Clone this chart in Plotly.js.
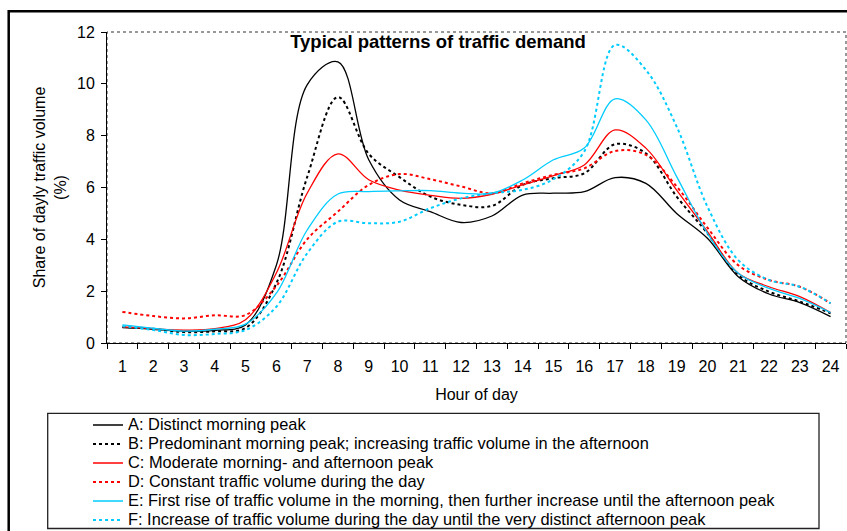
<!DOCTYPE html>
<html>
<head>
<meta charset="utf-8">
<script src="https://cdn.plot.ly/plotly-3.0.1.min.js"></script>
<style>
  html, body { margin: 0; padding: 0; background: #fff; }
  #chart { width: 847px; height: 531px; }
</style>
</head>
<body>
<div id="chart"></div>
<script>
var hours = ['1','2','3','4','5','6','7','8','9','10','11','12','13','14','15','16','17','18','19','20','21','22','23','24'];

var seriesNames = [
  'A: Distinct morning peak',
  'B: Predominant morning peak; increasing traffic volume in the afternoon',
  'C: Moderate morning- and afternoon peak',
  'D: Constant traffic volume during the day',
  'E: First rise of traffic volume in the morning, then further increase until the afternoon peak',
  'F: Increase of traffic volume during the day until the very distinct afternoon peak'
];

var seriesA = [0.59, 0.53, 0.45, 0.49, 0.70, 3.00, 9.96, 10.85, 7.07, 5.52, 5.07, 4.65, 4.90, 5.71, 5.78, 5.84, 6.38, 6.16, 5.00, 4.04, 2.56, 1.89, 1.56, 1.02];
var seriesB = [0.62, 0.55, 0.42, 0.45, 0.58, 2.30, 6.40, 9.49, 7.30, 6.40, 5.65, 5.33, 5.29, 6.10, 6.36, 6.55, 7.67, 7.32, 5.65, 4.23, 2.63, 1.98, 1.60, 1.15];
var seriesC = [0.62, 0.55, 0.50, 0.55, 0.90, 2.70, 5.78, 7.30, 6.30, 5.90, 5.70, 5.58, 5.74, 6.10, 6.46, 6.87, 8.22, 7.52, 5.90, 4.30, 2.69, 2.17, 1.79, 1.17];
var seriesD = [1.20, 1.04, 0.95, 1.07, 1.08, 2.20, 4.00, 5.07, 6.10, 6.52, 6.32, 6.04, 5.78, 6.16, 6.49, 6.74, 7.41, 7.26, 6.04, 4.45, 3.00, 2.43, 2.17, 1.53];
var seriesE = [0.70, 0.57, 0.46, 0.53, 0.73, 1.92, 4.36, 5.75, 5.84, 5.87, 5.88, 5.78, 5.78, 6.29, 7.07, 7.52, 9.42, 8.61, 6.42, 4.23, 2.69, 2.11, 1.72, 1.17];
var seriesF = [0.65, 0.50, 0.31, 0.35, 0.50, 1.40, 3.46, 4.68, 4.62, 4.68, 5.20, 5.58, 5.78, 5.91, 6.32, 7.39, 11.50, 10.54, 8.35, 5.26, 3.20, 2.43, 2.17, 1.53];

var seriesValues = [seriesA, seriesB, seriesC, seriesD, seriesE, seriesF];
var seriesColors = ['#000000', '#000000', '#FF0000', '#FF0000', '#00CCFF', '#00CCFF'];
var seriesDash = ['solid', 'dot', 'solid', 'dot', 'solid', 'dot'];
var seriesWidth = [1.3, 2, 1.3, 2, 1.3, 2];

var traces = seriesValues.map(function (vals, i) {
  return {
    type: 'scatter',
    mode: 'lines',
    x: hours,
    y: vals,
    name: '<span style="font-size:16.4px">' + seriesNames[i] + '</span>',
    line: { color: seriesColors[i], dash: seriesDash[i], width: seriesWidth[i], shape: 'spline', smoothing: 1 },
    hoverinfo: 'x+y+name'
  };
});

// plot area in pixels: left 107, right 846, top 32, bottom 343
var L = 107, R = 846, T = 32, B = 343, W = 847, H = 531;
var pw = R - L, ph = B - T;
function px(x) { return (x - L) / pw; }
function py(y) { return (B - y) / ph; }

var layout = {
  width: W,
  height: H,
  margin: { l: L, r: W - R, t: T, b: H - B, autoexpand: false },
  paper_bgcolor: '#ffffff',
  plot_bgcolor: '#ffffff',
  font: { family: 'Liberation Sans, Arial, sans-serif', size: 16, color: '#000' },
  title: {
    text: '<b>Typical patterns of traffic demand</b>',
    font: { family: 'Liberation Sans, Arial, sans-serif', size: 18.5, color: '#000' },
    x: 438 / W, xref: 'container', xanchor: 'center',
    y: 1 - 42 / H, yref: 'container', yanchor: 'middle'
  },
  showlegend: true,
  legend: {
    x: px(88), xanchor: 'left',
    y: py(410.5), yanchor: 'top',
    bgcolor: 'rgba(0,0,0,0)',
    borderwidth: 0,
    font: { family: 'Liberation Sans, Arial, sans-serif', size: 12, color: '#000' },
    traceorder: 'normal',
    itemclick: false
  },
  xaxis: {
    type: 'category',
    range: [-0.5, 23.5],
    tickson: 'boundaries',
    ticks: 'outside',
    ticklen: 5,
    tickcolor: '#000',
    ticklabelstandoff: 9,
    showline: true,
    linecolor: '#000',
    linewidth: 1,
    showgrid: false,
    zeroline: false,
    tickfont: { size: 16 },
    title: { text: 'Hour of day', font: { size: 16 }, standoff: 14 },
    fixedrange: true
  },
  yaxis: {
    range: [0, 12],
    dtick: 2,
    tick0: 0,
    ticks: 'outside',
    ticklen: 5,
    tickcolor: '#000',
    ticklabelstandoff: 3,
    showline: true,
    linecolor: '#000',
    linewidth: 1,
    showgrid: false,
    zeroline: false,
    tickfont: { size: 16 },
    title: { text: 'Share of dayly traffic volume<br>(%)', font: { size: 16 }, standoff: 6 },
    fixedrange: true
  },
  shapes: [
    // dotted plot-area frame
    { type: 'rect', xref: 'paper', yref: 'paper', x0: 0, x1: 1, y0: 0, y1: 1,
      line: { color: '#333', width: 1, dash: 'dot' }, layer: 'below' },
    // outer chart frame (left and top visible)
    { type: 'rect', xref: 'paper', yref: 'paper', x0: px(8.7), x1: px(900), y0: py(600), y1: py(11.2),
      line: { color: '#000', width: 2.5 }, layer: 'below' },
    // legend box
    { type: 'rect', xref: 'paper', yref: 'paper', x0: px(47.7), x1: px(819), y0: py(528.5), y1: py(413.3),
      line: { color: '#222', width: 1.3 }, layer: 'below' }
  ]
};

Plotly.newPlot('chart', traces, layout, { staticPlot: true, displayModeBar: false });
</script>
</body>
</html>
